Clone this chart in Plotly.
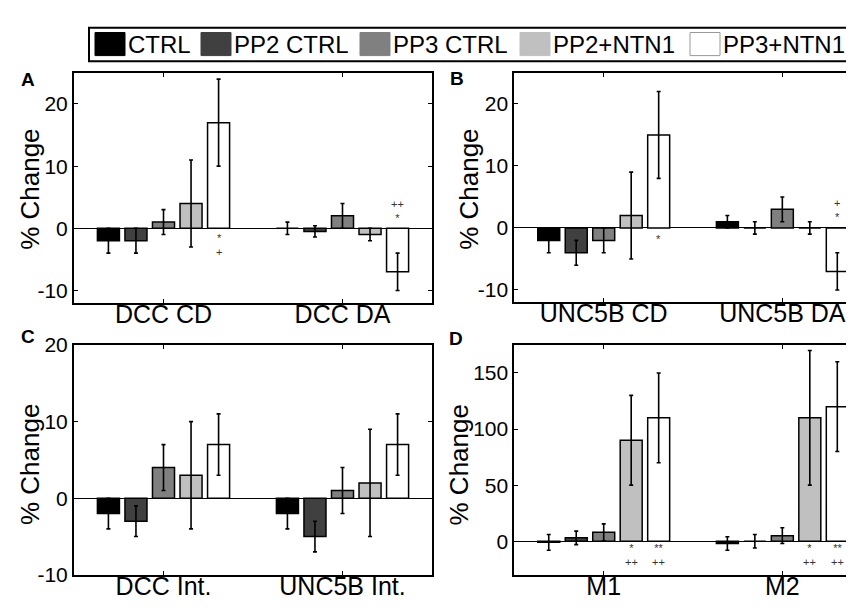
import plotly.graph_objects as go

W, H = 854, 608

series_names = ["CTRL", "PP2 CTRL", "PP3 CTRL", "PP2+NTN1", "PP3+NTN1"]
series_colors = ["#000000", "#404040", "#808080", "#c0c0c0", "#ffffff"]

# Panel A
a_cats = ["DCC CD", "DCC DA"]
a_vals = [[-2, 0], [-2, -0.5], [1, 2], [4, -1], [17, -7]]
a_errs = [[2, 1], [2, 0.9], [2, 2], [7, 1], [7, 3]]

# Panel B
b_cats = ["UNC5B CD", "UNC5B DA"]
b_vals = [[-2, 1], [-4, 0], [-2, 3], [2, 0], [15, -7]]
b_errs = [[2, 1], [2, 1], [2, 2], [7, 1], [7, 3]]

# Panel C
c_cats = ["DCC Int.", "UNC5B Int."]
c_vals = [[-2, -2], [-3, -5], [4, 1], [3, 2], [7, 7]]
c_errs = [[2, 2], [2, 2], [3, 3], [7, 7], [4, 4]]

# Panel D
d_cats = ["M1", "M2"]
d_vals = [[-1, -2], [3, 0], [8, 5], [90, 110], [110, 120]]
d_errs = [[7, 6], [6, 6], [7.5, 7], [40, 60], [40, 40]]

# significance marks: (group index, series index, symbol lines top->bottom)
a_marks = [(0, 4, ["*", "+"]), (1, 4, ["++", "*"])]
b_marks = [(0, 4, ["*"]), (1, 4, ["+", "*"])]
c_marks = []
d_marks = [(0, 3, ["*", "++"]), (0, 4, ["**", "++"]),
           (1, 3, ["*", "++"]), (1, 4, ["**", "++"])]

panels = [
    ("A", a_cats, a_vals, a_errs, a_marks, [-12, 25], [-10, 0, 10, 20]),
    ("B", b_cats, b_vals, b_errs, b_marks, [-12, 25], [-10, 0, 10, 20]),
    ("C", c_cats, c_vals, c_errs, c_marks, [-10, 20], [-10, 0, 10, 20]),
    ("D", d_cats, d_vals, d_errs, d_marks, [-30, 175], [0, 50, 100, 150]),
]


def px(x):
    return x / W


def py(y):
    return 1 - y / H


# layout boxes in pixels: (left, right, top, bottom, x range max)
boxes = [
    (66, 424, 55, 294, 2.5),
    (506.4, 854, 55, 293.5, 2.446),
    (66, 424, 337.7, 576.7, 2.5),
    (506.4, 854, 337.7, 576.7, 2.446),
]
ytitle_pos = [(22.5, 176), (461.5, 176), (21.5, 462), (451, 463)]
letter_pos = [(20, 61.5), (449, 61), (20, 329), (448, 331)]
# pixel gap between zero line and the near edge of the mark block, per panel
mark_gap = {"A": 3, "B": 4, "C": 3, "D": 0}

fig = go.Figure()
n = len(series_names)
bargap = 1 - 5 / 6.5
slot = (1 - bargap) / n

annotations = []
shapes = []
layout = {}
for p, (letter, cats, vals, errs, marks, yr, ytv) in enumerate(panels):
    k = "" if p == 0 else str(p + 1)
    xs = [i + 1 for i in range(len(cats))]
    for s in range(n):
        fig.add_trace(go.Bar(
            x=xs, y=vals[s], name=series_names[s],
            marker=dict(color=series_colors[s], line=dict(color="black", width=1.5)),
            error_y=dict(type="data", array=errs[s], color="black", thickness=1.6, width=2),
            xaxis="x" + k, yaxis="y" + k, showlegend=False,
            offsetgroup=str(s),
        ))
    l, r, t, b, xmax = boxes[p]
    mirror_y = "ticks" if p in (0, 2) else False
    layout["xaxis" + k] = dict(
        domain=[px(l), px(r)], range=[0.5, xmax], anchor="y" + k,
        tickvals=xs, ticktext=cats, ticks="inside", ticklen=4, tickwidth=1.2,
        tickcolor="black", showline=True, linecolor="black", linewidth=2,
        mirror="ticks", showgrid=False, zeroline=False, ticklabelstandoff=-12,
        tickfont=dict(size=25, color="black"),
    )
    layout["yaxis" + k] = dict(
        domain=[py(b), py(t)], range=yr, anchor="x" + k,
        tickvals=ytv, ticktext=[str(v) for v in ytv], ticks="inside", ticklen=4, tickwidth=1.2,
        tickcolor="black", showline=True, linecolor="black", linewidth=2,
        mirror=mirror_y, showgrid=False, zeroline=True, zerolinecolor="black",
        zerolinewidth=1.2, tickfont=dict(size=21, color="black"),
    )
    tx, ty = ytitle_pos[p]
    annotations.append(dict(text="% Change", x=px(tx), y=py(ty), xref="paper", yref="paper",
                            textangle=-90, showarrow=False, font=dict(size=26, color="black"),
                            xanchor="center", yanchor="middle"))
    lx, ly = letter_pos[p]
    annotations.append(dict(text="<b>%s</b>" % letter, x=px(lx), y=py(ly), xref="paper", yref="paper",
                            showarrow=False, font=dict(size=19, color="black"),
                            xanchor="center", yanchor="middle"))
    for (g, s, lines) in marks:
        xpos = xs[g] + (s - (n - 1) / 2) * slot
        below = vals[s][g] >= 0
        gap = mark_gap[letter]
        annotations.append(dict(
            text="<br>".join(lines), x=xpos, y=0, xref="x" + k, yref="y" + k, showarrow=False,
            font=dict(size=11, color="#333333"), borderpad=0,
            xanchor="center", yanchor="top" if below else "bottom",
            yshift=-gap if below else gap,
        ))

# manual legend
lg_top, lg_bot = 8, 43
shapes.append(dict(type="rect", xref="paper", yref="paper", x0=px(81), x1=px(847),
                   y0=py(lg_bot), y1=py(lg_top), line=dict(color="black", width=2),
                   fillcolor="white"))
sw_left = [87, 193, 352, 512, 682]
for s in range(n):
    x0 = sw_left[s]
    shapes.append(dict(type="rect", xref="paper", yref="paper", x0=px(x0), x1=px(x0 + 30),
                       y0=py(37), y1=py(13), fillcolor=series_colors[s],
                       line=dict(color="#999999" if s == 4 else series_colors[s], width=1)))
    annotations.append(dict(text=series_names[s], x=px(x0 + 31), y=py(25.5), xref="paper",
                            yref="paper", showarrow=False, xanchor="left", yanchor="middle",
                            font=dict(size=24, color="black")))

fig.update_layout(
    width=W, height=H, margin=dict(l=0, r=0, t=0, b=0),
    paper_bgcolor="white", plot_bgcolor="white",
    barmode="group", bargap=bargap, bargroupgap=0.2,
    font=dict(family="Liberation Sans, Arial, sans-serif", color="black"),
    annotations=annotations, shapes=shapes, showlegend=False,
    **layout,
)

fig.write_html("out.html")
